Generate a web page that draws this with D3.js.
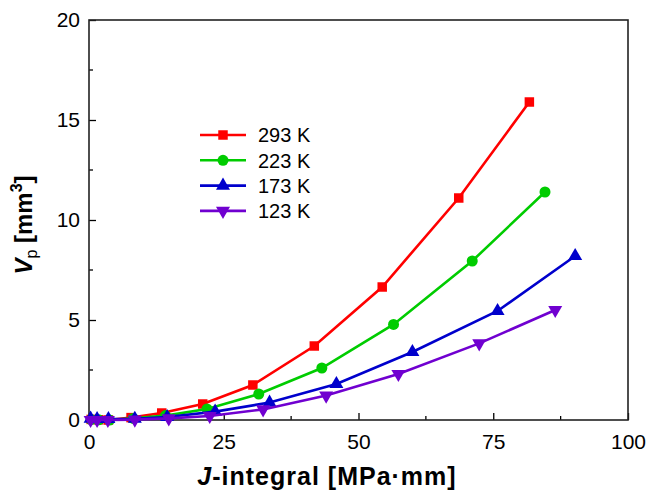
<!DOCTYPE html>
<html>
<head>
<meta charset="utf-8">
<script src="https://cdn.jsdelivr.net/npm/d3@7"></script>
<style>
  body { margin: 0; background: #fff; font-family: "Liberation Sans", Arial, sans-serif; }
  svg { display: block; }
  .tick text { font-size: 21px; fill: #000; }
  .axis path, .axis line { stroke: #000; }
</style>
</head>
<body>
<div id="chart"></div>
<script>
// data
var seriesNames = ["293 K", "223 K", "173 K", "123 K"];
var colors = ["#ff0000", "#00cc00", "#0000cc", "#7000d0"];
var markers = ["square", "circle", "triangle", "triangleDown"];

var j293 = [0.4, 1.8, 3.6, 7.8, 13.5, 21.1, 30.4, 41.8, 54.4, 68.6, 81.7];
var v293 = [0.03, 0.01, 0.0, 0.12, 0.35, 0.8, 1.75, 3.7, 6.65, 11.1, 15.9];
var j223 = [0.4, 1.8, 3.8, 8.2, 14.2, 21.9, 31.5, 43.2, 56.5, 71.1, 84.6];
var v223 = [0.02, 0.01, 0.0, 0.08, 0.22, 0.55, 1.3, 2.6, 4.78, 7.95, 11.4];
var j173 = [0.3, 1.5, 3.6, 8.5, 14.5, 23.4, 33.5, 45.9, 60.0, 75.8, 90.2];
var v173 = [0.07, 0.05, 0.05, 0.06, 0.15, 0.42, 0.87, 1.8, 3.4, 5.45, 8.2];
var j123 = [0.3, 1.5, 3.5, 8.5, 14.8, 22.4, 32.3, 44.0, 57.4, 72.4, 86.5];
var v123 = [0.0, 0.0, 0.0, 0.02, 0.08, 0.2, 0.53, 1.22, 2.3, 3.83, 5.5];

var xTicks = [0, 25, 50, 75, 100];
var yTicks = [0, 5, 10, 15, 20];

var allJ = [j293, j223, j173, j123];
var allV = [v293, v223, v173, v123];

var width = 649, height = 492;
var margin = {left: 89, right: 21, top: 20, bottom: 72};

var svg = d3.select("#chart").append("svg")
    .attr("width", width)
    .attr("height", height);

var x = d3.scaleLinear().domain([0, 100]).range([margin.left, width - margin.right]);
var y = d3.scaleLinear().domain([0, 20]).range([height - margin.bottom, margin.top]);

// minor ticks (inward)
var xMinor = d3.range(12.5, 100, 25);
var yMinor = d3.range(2.5, 20, 5);

svg.append("g").selectAll("line").data(xMinor).enter().append("line")
    .attr("x1", function(d) { return x(d); }).attr("x2", function(d) { return x(d); })
    .attr("y1", y(0)).attr("y2", y(0) - 4)
    .attr("stroke", "#000").attr("stroke-width", 1.3);
svg.append("g").selectAll("line").data(yMinor).enter().append("line")
    .attr("y1", function(d) { return y(d); }).attr("y2", function(d) { return y(d); })
    .attr("x1", x(0)).attr("x2", x(0) + 4)
    .attr("stroke", "#000").attr("stroke-width", 1.3);

var xAxis = svg.append("g").attr("class", "axis")
    .attr("transform", "translate(0," + y(0) + ")")
    .call(d3.axisBottom(x).tickValues(xTicks).tickSizeInner(-7).tickSizeOuter(0).tickPadding(14));
var yAxis = svg.append("g").attr("class", "axis")
    .attr("transform", "translate(" + x(0) + ",0)")
    .call(d3.axisLeft(y).tickValues(yTicks).tickSizeInner(-7).tickSizeOuter(0).tickPadding(9));
[xAxis, yAxis].forEach(function(g) {
  g.select(".domain").remove();
  g.selectAll(".tick line").attr("stroke-width", 1.3);
  g.selectAll(".tick text").attr("font-family", "Liberation Sans, Arial, sans-serif");
});

// frame
svg.append("rect")
    .attr("x", x(0)).attr("y", y(20))
    .attr("width", x(100) - x(0)).attr("height", y(0) - y(20))
    .attr("fill", "none").attr("stroke", "#222").attr("stroke-width", 1.6);

var symbolFor = {
  square: d3.symbol().type(d3.symbolSquare).size(90),
  circle: d3.symbol().type(d3.symbolCircle).size(95),
  triangle: d3.symbol().type(d3.symbolTriangle).size(85),
  triangleDown: d3.symbol().type(d3.symbolTriangle).size(85)
};

var line = d3.line()
    .x(function(d) { return x(d[0]); })
    .y(function(d) { return y(d[1]); });

for (var s = 0; s < 4; s++) {
  var pts = allJ[s].map(function(jv, i) { return [jv, allV[s][i]]; });
  var g = svg.append("g");
  g.append("path")
      .attr("d", line(pts))
      .attr("fill", "none")
      .attr("stroke", colors[s])
      .attr("stroke-width", 2.6);
  var mk = markers[s];
  g.selectAll("path.m").data(pts).enter().append("path")
      .attr("class", "m")
      .attr("d", symbolFor[mk]())
      .attr("transform", function(d) {
        return "translate(" + x(d[0]) + "," + y(d[1]) + ")" + (mk == "triangleDown" ? " rotate(180)" : "");
      })
      .attr("fill", colors[s]);
}

// legend
var leg = svg.append("g").attr("transform", "translate(200,135)");
for (var i = 0; i < 4; i++) {
  var row = leg.append("g").attr("transform", "translate(0," + (i * 25.3) + ")");
  row.append("line").attr("x1", 0).attr("x2", 46).attr("y1", 0).attr("y2", 0)
      .attr("stroke", colors[i]).attr("stroke-width", 2.6);
  row.append("path").attr("d", symbolFor[markers[i]]())
      .attr("transform", "translate(23,0)" + (markers[i] == "triangleDown" ? " rotate(180)" : ""))
      .attr("fill", colors[i]);
  row.append("text").attr("x", 58).attr("y", 0).attr("dy", "0.36em")
      .attr("font-size", 20).text(seriesNames[i]);
}

// axis titles
var xt = svg.append("text")
    .attr("x", 327).attr("y", 485)
    .attr("text-anchor", "middle")
    .attr("font-size", 25).attr("font-weight", "bold")
    .attr("letter-spacing", 1);
xt.append("tspan").attr("font-style", "italic").text("J");
xt.append("tspan").text("-integral [MPa\u00b7mm]");

var yt = svg.append("text")
    .attr("transform", "translate(32,225) rotate(-90)")
    .attr("text-anchor", "middle")
    .attr("font-size", 24).attr("font-weight", "bold");
yt.append("tspan").attr("font-style", "italic").text("V");
yt.append("tspan").attr("font-size", 16).attr("font-weight", "normal").attr("dy", 5).text("p");
yt.append("tspan").attr("dy", -5).text(" [mm");
yt.append("tspan").attr("font-size", 16).attr("dy", -10).text("3");
yt.append("tspan").attr("dy", 10).text("]");
</script>
</body>
</html>
